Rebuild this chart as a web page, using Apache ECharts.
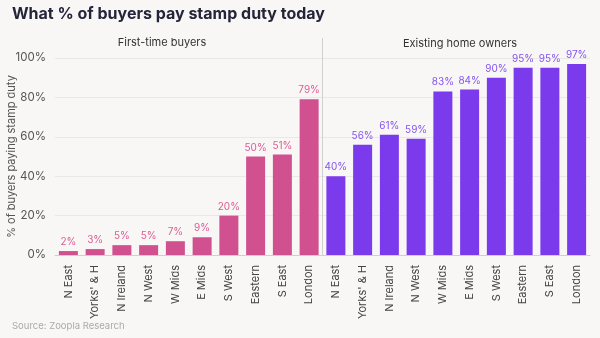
<!DOCTYPE html>
<html>
<head>
<meta charset="utf-8">
<script src="https://cdn.jsdelivr.net/npm/echarts@6/dist/echarts.min.js"></script>
<style>
html,body{margin:0;padding:0;background:#f8f7f5;}
#c{width:600px;height:338px;}
</style>
</head>
<body>
<div id="c"></div>
<script>
const regions = ['N East', "Yorks' & H", 'N Ireland', 'N West', 'W Mids', 'E Mids', 'S West', 'Eastern', 'S East', 'London'];
const firstTimeValues = [2, 3, 5, 5, 7, 9, 20, 50, 51, 79];
const ownerValues = [40, 56, 61, 59, 83, 84, 90, 95, 95, 97];
const yTicks = [0, 20, 40, 60, 80, 100];

const categories = regions.concat(regions);
const ftbSeries = firstTimeValues.concat(regions.map(() => null));
const ownerSeries = regions.map(() => null).concat(ownerValues);

const FONT = 'Inter';
const chart = echarts.init(document.getElementById('c'), null, {renderer: 'canvas'});
const option = {
  backgroundColor: '#f8f7f5',
  animation: false,
  textStyle: {fontFamily: FONT},
  title: [
    {text: 'What % of buyers pay stamp duty today', left: 12, top: 6, padding: 0,
     textStyle: {fontFamily: FONT, fontSize: 16, fontWeight: 'bold', color: '#24243a'}},
    {text: 'First-time buyers', left: 162, top: 37, padding: 0, textAlign: 'center',
     textStyle: {fontFamily: FONT, fontSize: 11, fontWeight: 'normal', color: '#333'}},
    {text: 'Existing home owners', left: 460, top: 38, padding: 0, textAlign: 'center',
     textStyle: {fontFamily: FONT, fontSize: 11, fontWeight: 'normal', color: '#333'}},
    {text: 'Source: Zoopla Research', left: 12, top: 321, padding: 0,
     textStyle: {fontFamily: FONT, fontSize: 9.5, fontWeight: 'normal', color: '#aaaaaa'}}
  ],
  grid: {left: 55, right: 10, top: 58, bottom: 83, containLabel: false, outerBoundsMode: 'none'},
  xAxis: {
    type: 'category',
    data: categories,
    axisLine: {show: true, lineStyle: {color: '#cfcfcf'}},
    axisTick: {show: false},
    axisLabel: {rotate: 90, interval: 0, fontSize: 11, color: '#444', margin: 10, fontFamily: FONT}
  },
  yAxis: {
    type: 'value',
    min: 0, max: 100, interval: 20,
    name: '% of buyers paying stamp duty',
    nameLocation: 'middle',
    nameGap: 38,
    nameRotate: 90,
    nameMoveOverlap: false,
    nameTextStyle: {fontSize: 11, color: '#555', fontFamily: FONT},
    axisLabel: {formatter: v => yTicks.includes(v) ? v + '%' : '', fontSize: 11.5, color: '#555', margin: 9, fontFamily: FONT},
    axisLine: {show: false},
    axisTick: {show: false},
    splitLine: {lineStyle: {color: '#e9e8e6'}}
  },
  series: [
    {name: 'First-time buyers', type: 'bar', stack: 'all', data: ftbSeries, barWidth: '71%',
     itemStyle: {color: '#d1508f'},
     label: {show: true, position: 'top', formatter: p => p.value + '%', color: '#dc5b95', fontSize: 10, distance: 4, fontFamily: FONT}},
    {name: 'Existing home owners', type: 'bar', stack: 'all', data: ownerSeries, barWidth: '71%',
     itemStyle: {color: '#7c3aed'},
     label: {show: true, position: 'top', formatter: p => p.value + '%', color: '#8454f0', fontSize: 10, distance: 4, fontFamily: FONT}}
  ]
};
chart.setOption(option);

const xa = chart.convertToPixel({xAxisIndex: 0}, regions.length - 1);
const xb = chart.convertToPixel({xAxisIndex: 0}, regions.length);
const yBottom = chart.convertToPixel({yAxisIndex: 0}, 0);
const xDiv = (xa + xb) / 2;
chart.setOption({
  graphic: [{
    type: 'line', shape: {x1: xDiv, y1: 38, x2: xDiv, y2: yBottom},
    style: {stroke: '#d0d0d0', lineWidth: 1}, z: 10
  }]
});
</script>
</body>
</html>
